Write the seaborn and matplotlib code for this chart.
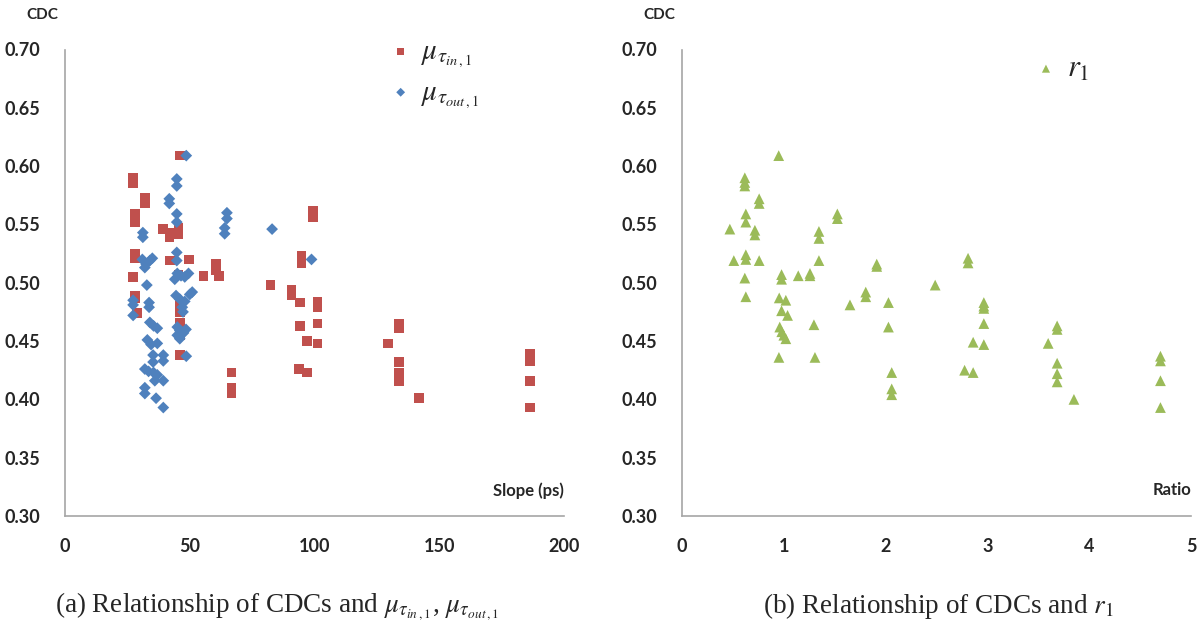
import numpy as np
import pandas as pd
import matplotlib
matplotlib.use("Agg")
import matplotlib.pyplot as plt
import seaborn as sns

# Data
# (a) CDC vs slope (ps) for mu_tau_in,1 (red) and mu_tau_out,1 (blue)
slope_in = [46.2, 27.3, 27.3, 32.1, 32.1, 28.1, 28.1, 39.2, 41.9, 41.9, 45.5, 45.5,
            28.1, 28.1, 42.2, 49.8, 60.6, 60.6, 61.8, 27.3, 55.5, 45.5, 28.0, 28.0,
            28.9, 46.2, 46.2, 46.2, 46.2, 46.2, 46.2, 99.3, 99.3, 94.8, 94.8, 82.3,
            90.8, 90.8, 94.1, 101.2, 101.2, 94.1, 101.2, 97.0, 101.2, 66.7, 66.7,
            66.7, 93.7, 97.0, 133.9, 133.9, 129.5, 133.9, 133.9, 133.9, 142.0,
            186.3, 186.3, 186.3, 186.3]
cdc_in = [0.609, 0.590, 0.585, 0.573, 0.568, 0.559, 0.552, 0.546, 0.543, 0.539, 0.547, 0.542,
          0.525, 0.521, 0.519, 0.520, 0.516, 0.511, 0.506, 0.505, 0.506, 0.507, 0.489, 0.487,
          0.474, 0.482, 0.475, 0.466, 0.462, 0.455, 0.438, 0.562, 0.556, 0.523, 0.517, 0.498,
          0.494, 0.489, 0.483, 0.484, 0.479, 0.463, 0.465, 0.450, 0.448, 0.423, 0.410,
          0.405, 0.426, 0.423, 0.465, 0.461, 0.448, 0.432, 0.423, 0.416, 0.401,
          0.439, 0.433, 0.416, 0.393]

slope_out = [48.6, 44.8, 44.8, 41.8, 41.8, 44.8, 44.8, 31.2, 31.2, 44.8, 44.8,
             31.0, 32.5, 34.0, 35.0, 32.0, 45.0, 46.5, 48.0, 49.5, 44.0, 32.8,
             44.5, 46.0, 48.0, 50.0, 51.0, 47.0, 27.3, 27.3, 33.7, 33.7, 27.3, 47.3,
             34.0, 35.5, 37.0, 45.0, 46.0, 47.5, 48.5, 46.0, 45.0, 33.0, 34.5, 37.0,
             48.6, 35.3, 35.3, 39.4, 39.4, 32.0, 33.5, 35.5, 37.0, 36.0, 39.4,
             32.0, 32.0, 36.5, 39.4, 64.9, 64.9, 64.0, 64.0, 83.0, 98.8]
cdc_out = [0.609, 0.589, 0.583, 0.572, 0.568, 0.559, 0.552, 0.543, 0.539, 0.526, 0.519,
           0.520, 0.516, 0.519, 0.521, 0.513, 0.508, 0.506, 0.505, 0.508, 0.503, 0.498,
           0.489, 0.486, 0.484, 0.490, 0.492, 0.479, 0.485, 0.481, 0.483, 0.479, 0.472, 0.475,
           0.466, 0.463, 0.461, 0.462, 0.459, 0.457, 0.460, 0.452, 0.455, 0.451, 0.447, 0.448,
           0.437, 0.438, 0.432, 0.438, 0.433, 0.426, 0.424, 0.423, 0.421, 0.416, 0.416,
           0.410, 0.405, 0.401, 0.393, 0.560, 0.555, 0.547, 0.542, 0.546, 0.520]

# (b) CDC vs ratio r1
ratio = [0.95, 0.617, 0.617, 0.617, 0.758, 0.758, 0.627, 0.627, 0.47, 0.716, 0.716,
         0.509, 0.627, 0.627, 0.758, 0.617, 0.627, 0.978, 0.978, 1.142, 1.257, 1.257,
         0.955, 1.02, 0.978, 1.037, 0.96, 0.98, 1.0, 1.02, 1.296, 0.952, 1.306,
         1.345, 1.345, 1.345, 1.526, 1.526, 1.65, 1.805, 1.805, 1.913, 1.913,
         2.028, 2.028, 2.06, 2.06, 2.06, 2.487, 2.81, 2.81, 2.965, 2.965, 2.965,
         2.965, 2.86, 2.965, 2.776, 2.86, 3.685, 3.685, 3.597, 3.685, 3.685, 3.685,
         3.85, 4.70, 4.70, 4.70, 4.70]
cdc_r = [0.609, 0.590, 0.586, 0.583, 0.572, 0.568, 0.559, 0.552, 0.546, 0.545, 0.541,
         0.519, 0.524, 0.520, 0.519, 0.504, 0.488, 0.507, 0.503, 0.506, 0.508, 0.506,
         0.487, 0.485, 0.476, 0.472, 0.462, 0.458, 0.455, 0.452, 0.464, 0.436, 0.436,
         0.544, 0.538, 0.519, 0.559, 0.555, 0.481, 0.492, 0.488, 0.516, 0.514,
         0.483, 0.462, 0.423, 0.409, 0.404, 0.498, 0.521, 0.517, 0.483, 0.480, 0.478,
         0.465, 0.449, 0.447, 0.425, 0.423, 0.463, 0.460, 0.448, 0.431, 0.422, 0.415,
         0.400, 0.437, 0.433, 0.416, 0.393]

yticks = [0.30, 0.35, 0.40, 0.45, 0.50, 0.55, 0.60, 0.65, 0.70]

RED = "#C0504D"
BLUE = "#4F81BD"
GREEN = "#9BBB59"
AXIS = "#A6A6A6"

sns.set_style("white")
plt.rcParams["font.family"] = ["Lato", "DejaVu Sans"]
plt.rcParams["mathtext.fontset"] = "stix"

df_in = pd.DataFrame({"x": slope_in, "y": cdc_in})
df_out = pd.DataFrame({"x": slope_out, "y": cdc_out})
df_r = pd.DataFrame({"x": ratio, "y": cdc_r})

fig = plt.figure(figsize=(12.03, 6.28), dpi=100)
ax1 = fig.add_axes([65 / 1203, 1 - 516 / 628, 499 / 1203, 466.5 / 628])
ax2 = fig.add_axes([682 / 1203, 1 - 516 / 628, 509 / 1203, 466.5 / 628])

sns.scatterplot(data=df_in, x="x", y="y", ax=ax1, marker="s", s=48, color=RED,
                edgecolor="none", label=r"$\mu_{\tau_{in\,,1}}$", zorder=3)
sns.scatterplot(data=df_out, x="x", y="y", ax=ax1, marker="D", s=36, color=BLUE,
                edgecolor="none", label=r"$\mu_{\tau_{out\,,1}}$", zorder=4)
sns.scatterplot(data=df_r, x="x", y="y", ax=ax2, marker="^", s=60, color=GREEN,
                edgecolor="none", label=r"$r_1$", zorder=3)

for ax, xmax, xstep, xlabel in [(ax1, 200, 50, "Slope (ps)"), (ax2, 5, 1, "Ratio")]:
    ax.set_xlim(0, xmax)
    ax.set_ylim(0.30, 0.70)
    ax.set_xticks(np.arange(0, xmax + 0.001, xstep))
    ax.set_yticks(yticks)
    ax.set_yticklabels([f"{v:.2f}" for v in yticks])
    ax.set_xlabel("")
    ax.set_ylabel("")
    for side in ["top", "right"]:
        ax.spines[side].set_visible(False)
    for side in ["left", "bottom"]:
        ax.spines[side].set_color(AXIS)
        ax.spines[side].set_linewidth(1.2)
    ax.tick_params(axis="both", direction="out", length=6, width=1.2, color=AXIS,
                   labelsize=13, pad=12)
    ax.tick_params(axis="x", pad=10)
    for lab in ax.get_xticklabels() + ax.get_yticklabels():
        lab.set_fontweight("bold")
    ax.text(1.0, 0.055, xlabel, transform=ax.transAxes, ha="right", va="center",
            fontsize=12, fontweight="bold")
    ax.text(-0.045, 1.075, "CDC", transform=ax.transAxes, ha="center", va="center",
            fontsize=11, fontweight="bold")

leg1 = ax1.legend(loc="upper left", bbox_to_anchor=(0.585, 1.08), frameon=False,
                  fontsize=21, handletextpad=0.1, labelspacing=0.3, markerscale=0.75,
                  handlelength=1.2)
leg2 = ax2.legend(loc="upper left", bbox_to_anchor=(0.625, 1.05), frameon=False,
                  fontsize=22, handletextpad=0.1, markerscale=0.75, handlelength=1.2)

cap_font = {"family": "Liberation Serif", "size": 19.5}
fig.text(55 / 1203, 1 - 606 / 628,
         r"(a) Relationship of CDCs and $\mu_{\tau_{in\,,1}}$, $\mu_{\tau_{out\,,1}}$",
         ha="left", va="center", fontdict=cap_font)
fig.text(763 / 1203, 1 - 606 / 628, r"(b) Relationship of CDCs and $r_1$",
         ha="left", va="center", fontdict=cap_font)

fig.savefig("out.png", dpi=100)
